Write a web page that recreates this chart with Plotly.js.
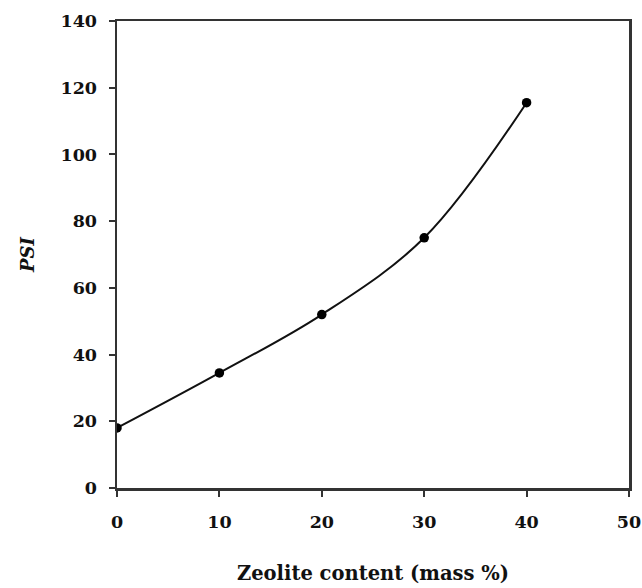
<!DOCTYPE html>
<html><head><meta charset="utf-8">
<script src="https://cdn.plot.ly/plotly-3.0.1.min.js"></script>
<style>html,body{margin:0;padding:0;background:#fff;}</style>
</head><body>
<div id="chart" style="width:642px;height:588px;"></div>
<script>
const zeolite = [0, 10, 20, 30, 40];
const psi = [18, 34.5, 52, 75, 115.5];
const xTicks = [0, 10, 20, 30, 40, 50];
const yTicks = [0, 20, 40, 60, 80, 100, 120, 140];

const fam = 'DejaVu Serif, Liberation Serif, serif';

Plotly.newPlot('chart', [{
  x: zeolite, y: psi, type: 'scatter', mode: 'lines+markers',
  line: {shape: 'spline', smoothing: 1, color: '#111', width: 2},
  marker: {size: 9.5, color: '#000'}
}], {
  width: 642, height: 588,
  margin: {l: 117, r: 13, t: 21, b: 100},
  paper_bgcolor: '#fff', plot_bgcolor: '#fff',
  showlegend: false,
  font: {family: fam, size: 15, color: '#111'},
  xaxis: {
    range: [0, 50], tickvals: xTicks, ticktext: xTicks.map(v => '<b>' + v + '</b>'),
    ticks: 'outside', ticklen: 6, tickwidth: 2, tickcolor: '#333',
    showline: true, linecolor: '#333', linewidth: 2.5, mirror: true,
    showgrid: false, zeroline: false,
    ticklabelstandoff: 10,
    tickfont: {family: fam, size: 17.5, color: '#111'},
    title: {text: '<b>Zeolite content (mass %)</b>', standoff: 36,
      font: {family: fam, size: 19.5, color: '#111'}}
  },
  yaxis: {
    range: [0, 140], tickvals: yTicks, ticktext: yTicks.map(v => '<b>' + v + '</b>'),
    ticks: 'outside', ticklen: 6, tickwidth: 2, tickcolor: '#333',
    showline: true, linecolor: '#333', linewidth: 2.5, mirror: true,
    showgrid: false, zeroline: false,
    ticklabelstandoff: 8,
    tickfont: {family: fam, size: 17.5, color: '#111'},
    title: {text: '<b><i>PSI</i></b>', standoff: 21,
      font: {family: fam, size: 18, color: '#111'}}
  }
}, {displayModeBar: false, staticPlot: true});
</script>
</body></html>
